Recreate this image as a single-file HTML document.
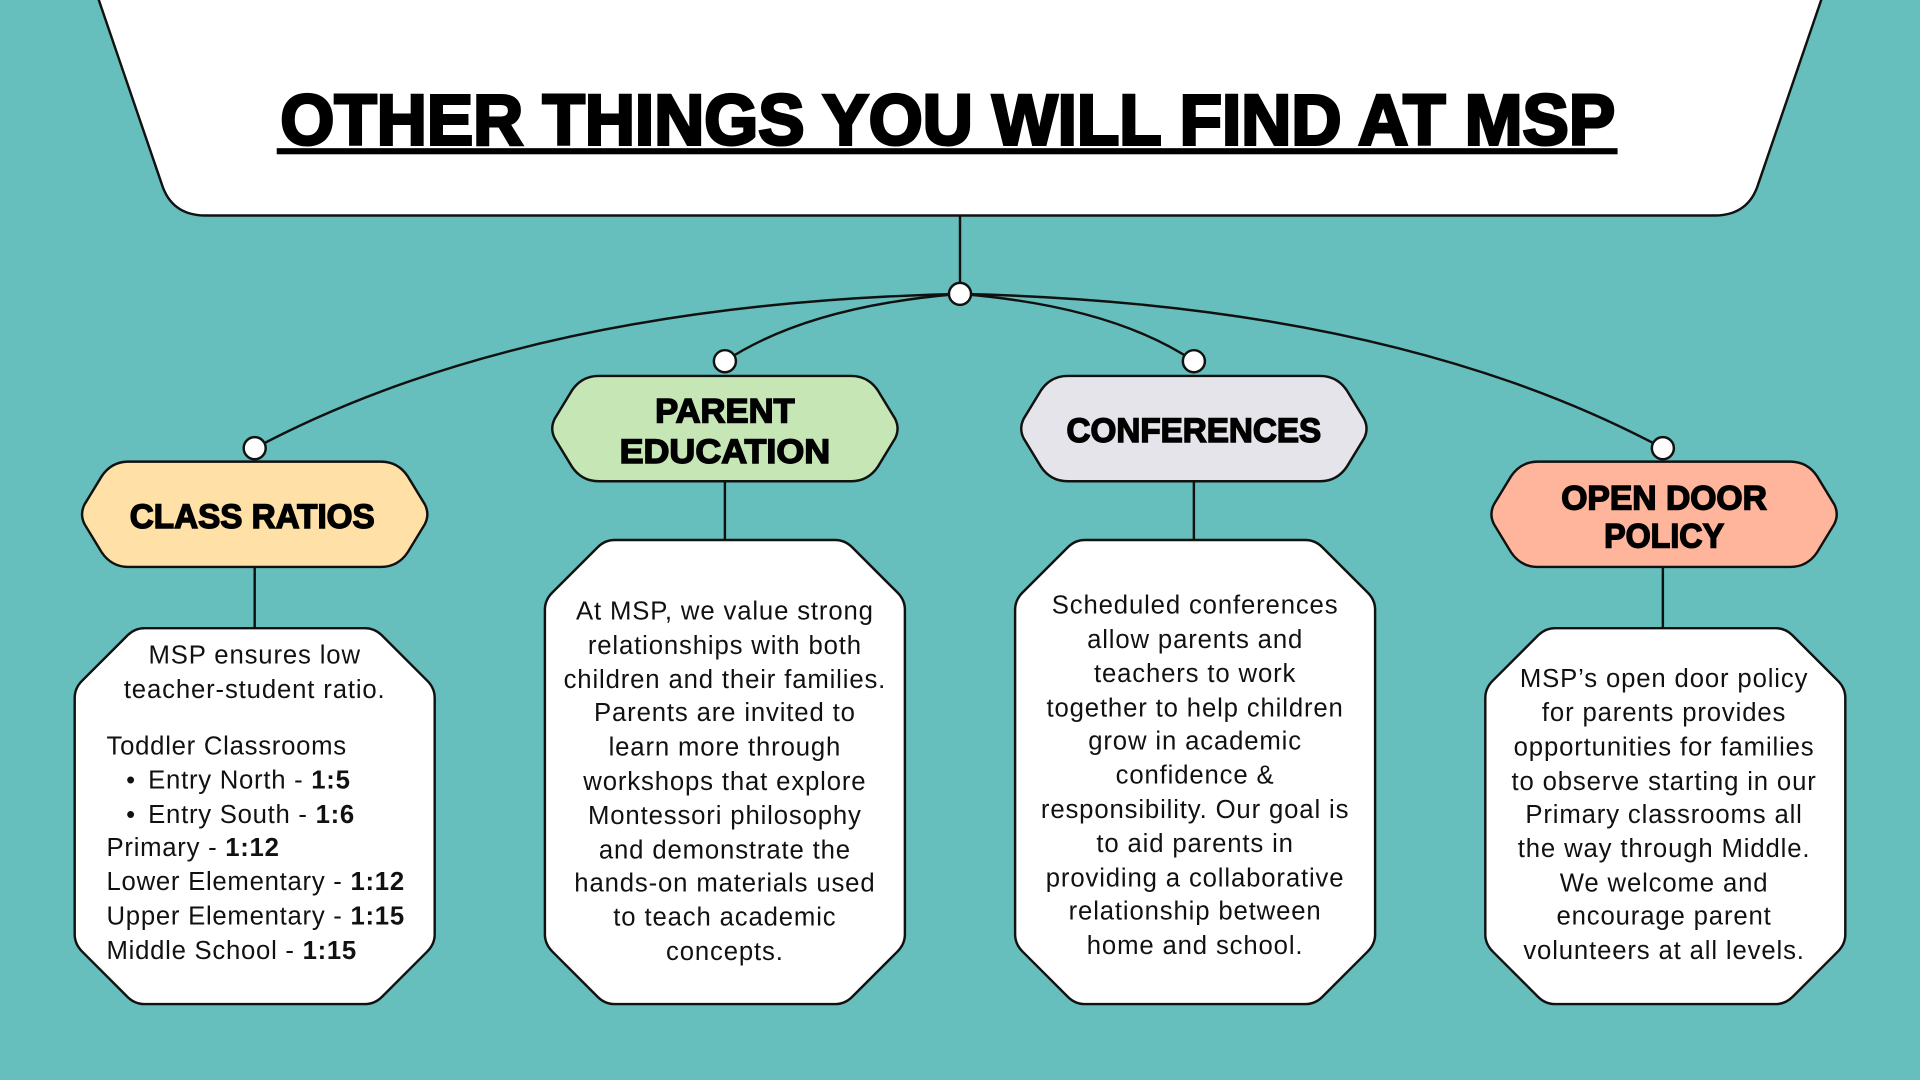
<!DOCTYPE html>
<html><head><meta charset="utf-8"><style>
html,body{margin:0;padding:0;background:#66BFBC;}
svg{display:block}
text{font-family:"Liberation Sans",sans-serif;}
.b{font-size:21px;fill:#111;text-anchor:middle;letter-spacing:0.7px}
.l{font-size:21px;fill:#111;letter-spacing:0.6px}
.h{font-size:28px;font-weight:bold;fill:#000;text-anchor:middle;stroke:#000;stroke-width:1.2px}
</style></head><body>
<svg width="1920" height="1080" viewBox="0 0 1568 882" preserveAspectRatio="none" xmlns="http://www.w3.org/2000/svg">
<defs>
<path id="hex" d="M40,0 L246,0 Q260,0 268,12 L282,35 Q286,43 282,51 L268,74 Q260,86 246,86 L40,86 Q26,86 18,74 L4,51 Q0,43 4,35 L18,12 Q26,0 40,0 Z"/>
</defs>
<rect width="1568" height="882" fill="#66BFBC"/>
<path d="M80,-2 L1488,-2 L1436,150 Q1428,176 1400,176 L168,176 Q140,176 132,150 Z" fill="#fff" stroke="#111" stroke-width="2"/>
<text x="774" y="118" style="font-size:58px;font-weight:bold;stroke:#000;stroke-width:2.5px" text-anchor="middle" textLength="1090" lengthAdjust="spacingAndGlyphs">OTHER THINGS YOU WILL FIND AT MSP</text>
<rect x="226" y="121" width="1095" height="5" fill="#000"/>
<g fill="none" stroke="#111" stroke-width="2">
<line x1="784" y1="176" x2="784" y2="240"/>
<path d="M784,240 Q430,248 208,366"/>
<path d="M784,240 Q660,250 592,295"/>
<path d="M784,240 Q908,250 975,295"/>
<path d="M784,240 Q1138,248 1358,366"/>
<line x1="208" y1="463" x2="208" y2="513"/>
<line x1="592" y1="393" x2="592" y2="441"/>
<line x1="975" y1="393" x2="975" y2="441"/>
<line x1="1358" y1="463" x2="1358" y2="513"/>
</g>
<g fill="#fff" stroke="#111" stroke-width="2">
<circle cx="784" cy="240" r="9"/>
<circle cx="208" cy="366" r="9"/>
<circle cx="592" cy="295" r="9"/>
<circle cx="975" cy="295" r="9"/>
<circle cx="1358" cy="366" r="9"/>
</g>
<g stroke="#111" stroke-width="2">
<use href="#hex" x="65" y="377" fill="#FFE0A6"/>
<use href="#hex" x="449" y="307" fill="#C6E6B6"/>
<use href="#hex" x="832" y="307" fill="#E4E4EA"/>
<use href="#hex" x="1216" y="377" fill="#FFB59B"/>
</g>
<text class="h" x="206" y="431" textLength="200" lengthAdjust="spacingAndGlyphs">CLASS RATIOS</text>
<text class="h" x="592" y="345" textLength="114" lengthAdjust="spacingAndGlyphs">PARENT</text>
<text class="h" x="592" y="378" textLength="172" lengthAdjust="spacingAndGlyphs">EDUCATION</text>
<text class="h" x="975" y="361" textLength="208" lengthAdjust="spacingAndGlyphs">CONFERENCES</text>
<text class="h" x="1359" y="416" textLength="168" lengthAdjust="spacingAndGlyphs">OPEN DOOR</text>
<text class="h" x="1359" y="447" textLength="98" lengthAdjust="spacingAndGlyphs">POLICY</text>
<g fill="#fff" stroke="#111" stroke-width="2" stroke-linejoin="round">
<path d="M118,513 L298,513 Q306,513 312,519 L349,556 Q355,562 355,570 L355,763 Q355,771 349,777 L312,814 Q306,820 298,820 L118,820 Q110,820 104,814 L67,777 Q61,771 61,763 L61,570 Q61,562 67,556 L104,519 Q110,513 118,513 Z"/>
<path d="M502,441 L682,441 Q690,441 696,447 L733,484 Q739,490 739,498 L739,763 Q739,771 733,777 L696,814 Q690,820 682,820 L502,820 Q494,820 488,814 L451,777 Q445,771 445,763 L445,498 Q445,490 451,484 L488,447 Q494,441 502,441 Z"/>
<path d="M886,441 L1066,441 Q1074,441 1080,447 L1117,484 Q1123,490 1123,498 L1123,763 Q1123,771 1117,777 L1080,814 Q1074,820 1066,820 L886,820 Q878,820 872,814 L835,777 Q829,771 829,763 L829,498 Q829,490 835,484 L872,447 Q878,441 886,441 Z"/>
<path d="M1270,513 L1450,513 Q1458,513 1464,519 L1501,556 Q1507,562 1507,570 L1507,763 Q1507,771 1501,777 L1464,814 Q1458,820 1450,820 L1270,820 Q1262,820 1256,814 L1219,777 Q1213,771 1213,763 L1213,570 Q1213,562 1219,556 L1256,519 Q1262,513 1270,513 Z"/>
</g>
<text class="b" x="208" y="542">MSP ensures low</text>
<text class="b" x="208" y="570">teacher-student ratio.</text>
<text class="l" x="87" y="616">Toddler Classrooms</text>
<text class="l" x="103" y="644">•</text><text class="l" x="121" y="644">Entry North - <tspan font-weight="bold">1:5</tspan></text>
<text class="l" x="103" y="672">•</text><text class="l" x="121" y="672">Entry South - <tspan font-weight="bold">1:6</tspan></text>
<text class="l" x="87" y="699">Primary - <tspan font-weight="bold">1:12</tspan></text>
<text class="l" x="87" y="727">Lower Elementary - <tspan font-weight="bold">1:12</tspan></text>
<text class="l" x="87" y="755">Upper Elementary - <tspan font-weight="bold">1:15</tspan></text>
<text class="l" x="87" y="783">Middle School - <tspan font-weight="bold">1:15</tspan></text>
<text class="b" x="592" y="506">At MSP, we value strong</text>
<text class="b" x="592" y="534">relationships with both</text>
<text class="b" x="592" y="562">children and their families.</text>
<text class="b" x="592" y="589">Parents are invited to</text>
<text class="b" x="592" y="617">learn more through</text>
<text class="b" x="592" y="645">workshops that explore</text>
<text class="b" x="592" y="673">Montessori philosophy</text>
<text class="b" x="592" y="701">and demonstrate the</text>
<text class="b" x="592" y="728">hands-on materials used</text>
<text class="b" x="592" y="756">to teach academic</text>
<text class="b" x="592" y="784">concepts.</text>
<text class="b" x="976" y="501">Scheduled conferences</text>
<text class="b" x="976" y="529">allow parents and</text>
<text class="b" x="976" y="557">teachers to work</text>
<text class="b" x="976" y="585">together to help children</text>
<text class="b" x="976" y="612">grow in academic</text>
<text class="b" x="976" y="640">confidence &amp;</text>
<text class="b" x="976" y="668">responsibility. Our goal is</text>
<text class="b" x="976" y="696">to aid parents in</text>
<text class="b" x="976" y="724">providing a collaborative</text>
<text class="b" x="976" y="751">relationship between</text>
<text class="b" x="976" y="779">home and school.</text>
<text class="b" x="1359" y="561">MSP’s open door policy</text>
<text class="b" x="1359" y="589">for parents provides</text>
<text class="b" x="1359" y="617">opportunities for families</text>
<text class="b" x="1359" y="645">to observe starting in our</text>
<text class="b" x="1359" y="672">Primary classrooms all</text>
<text class="b" x="1359" y="700">the way through Middle.</text>
<text class="b" x="1359" y="728">We welcome and</text>
<text class="b" x="1359" y="755">encourage parent</text>
<text class="b" x="1359" y="783">volunteers at all levels.</text>
</svg>
</body></html>
